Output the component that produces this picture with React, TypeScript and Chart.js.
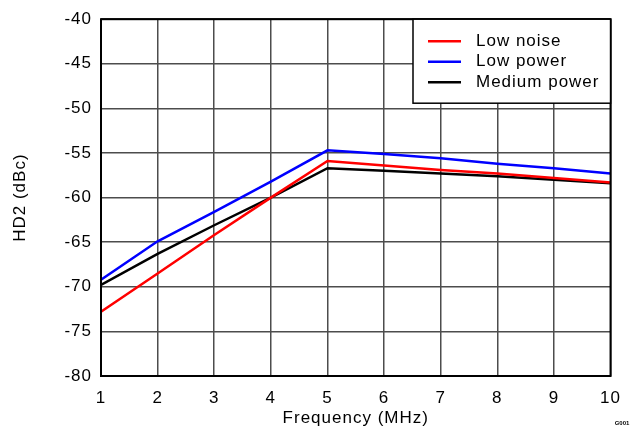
import React, { useEffect, useRef } from "react";
import { Chart, registerables } from "chart.js";

Chart.register(...registerables);

const frequencies = [1, 2, 3, 4, 5, 6, 7, 8, 9, 10];
const lowNoise = [-72.8, -68.5, -64.2, -60.0, -55.9, -56.4, -56.9, -57.3, -57.8, -58.3];
const lowPower = [-69.2, -64.9, -61.6, -58.2, -54.7, -55.1, -55.6, -56.2, -56.7, -57.3];
const mediumPower = [-69.8, -66.3, -63.1, -60.0, -56.7, -57.0, -57.3, -57.6, -58.0, -58.4];
const seriesNames = ["Low noise", "Low power", "Medium power"];
const seriesColors = ["#ff0000", "#0000ff", "#000000"];
const yTicks = [-80, -75, -70, -65, -60, -55, -50, -45, -40];
const xTitle = "Frequency (MHz)";
const yTitle = "HD2 (dBc)";
const figureTag = "G001";

const FONT = "'Liberation Sans', Arial, sans-serif";
const FS = 17;

const overlayPlugin = {
  id: "overlay",
  beforeDraw(chart: any) {
    chart.ctx.letterSpacing = "1px";
  },
  afterDraw(chart: any) {
    const ctx = chart.ctx;
    const area = chart.chartArea;
    ctx.save();
    ctx.letterSpacing = "1px";
    // plot border
    ctx.strokeStyle = "#000";
    ctx.lineWidth = 2;
    ctx.strokeRect(area.left, area.top, area.right - area.left, area.bottom - area.top);
    // legend box
    const bx = 413, by = area.top, bw = area.right - 413, bh = 84;
    ctx.fillStyle = "#fff";
    ctx.fillRect(bx, by, bw, bh);
    ctx.strokeStyle = "#000";
    ctx.lineWidth = 1.5;
    ctx.strokeRect(bx, by, bw, bh);
    ctx.font = FS + "px " + FONT;
    ctx.textBaseline = "middle";
    ctx.textAlign = "left";
    seriesNames.forEach((name, i) => {
      const y = by + 22 + i * 20.5;
      ctx.strokeStyle = seriesColors[i];
      ctx.lineWidth = 2.5;
      ctx.beginPath();
      ctx.moveTo(428, y);
      ctx.lineTo(461, y);
      ctx.stroke();
      ctx.fillStyle = "#000";
      ctx.fillText(name, 476, y);
    });
    // tag
    ctx.letterSpacing = "0px";
    ctx.font = "bold 6px " + FONT;
    ctx.fillStyle = "#000";
    ctx.textAlign = "center";
    ctx.fillText(figureTag, 622, 423);
    ctx.restore();
  },
};

export default function App() {
  const ref = useRef<HTMLCanvasElement>(null);
  useEffect(() => {
    document.body.style.margin = "0";
    const canvas = ref.current!;
    const chart = new Chart(canvas, {
      type: "line",
      data: {
        datasets: seriesNames.map((name, i) => ({
          label: name,
          data: frequencies.map((f, j) => ({ x: f, y: [lowNoise, lowPower, mediumPower][i][j] })),
          borderColor: seriesColors[i],
          backgroundColor: seriesColors[i],
          borderWidth: 2.5,
          pointRadius: 0,
          tension: 0,
        })),
      },
      options: {
        responsive: false,
        animation: false,
        devicePixelRatio: 1,
        layout: { padding: { left: 0, right: 21, top: 17, bottom: 0 } },
        plugins: { legend: { display: false }, tooltip: { enabled: false } },
        scales: {
          x: {
            type: "linear",
            min: 1,
            max: 10,
            afterFit: (s: any) => { s.height = 56; },
            afterBuildTicks: (s: any) => { s.ticks = frequencies.map((v) => ({ value: v })); },
            grid: { color: "#4d4d4d", lineWidth: 1.5, drawTicks: false },
            border: { display: false },
            ticks: { color: "#000", font: { family: FONT, size: FS }, padding: 12, maxRotation: 0, autoSkip: false },
            title: { display: true, text: xTitle, color: "#000", font: { family: FONT, size: FS }, padding: { top: 0, bottom: 3 } },
          },
          y: {
            min: -80,
            max: -40,
            afterFit: (s: any) => { s.width = 101; },
            afterBuildTicks: (s: any) => { s.ticks = yTicks.map((v) => ({ value: v })); },
            grid: { color: "#4d4d4d", lineWidth: 1.5, drawTicks: false },
            border: { display: false },
            ticks: { color: "#000", font: { family: FONT, size: FS }, padding: 9 },
            title: { display: true, text: yTitle, color: "#000", font: { family: FONT, size: FS }, padding: { top: 10, bottom: 0 } },
          },
        },
      },
      plugins: [overlayPlugin],
    } as any);
    return () => chart.destroy();
  }, []);
  return <canvas ref={ref} width={632} height={432} style={{ display: "block" }} />;
}
